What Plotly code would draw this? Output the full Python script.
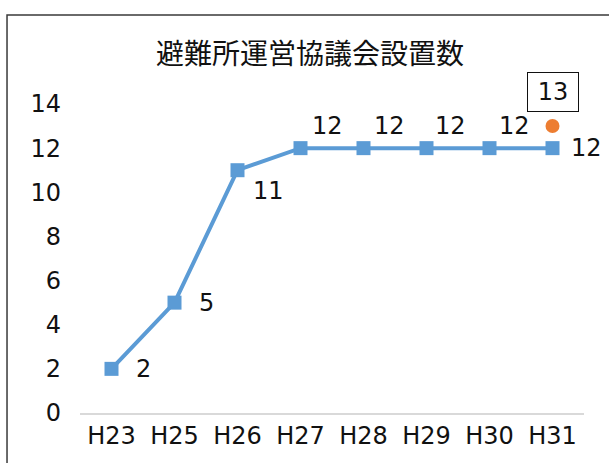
import plotly.graph_objects as go

# Council counts by fiscal year
years = ["H23", "H25", "H26", "H27", "H28", "H29", "H30", "H31"]
counts = [2, 5, 11, 12, 12, 12, 12, 12]
# Separate highlighted value shown at the last year
extra_year = "H31"
extra_value = 13

title_text = "避難所運営協議会設置数"
y_ticks = [0, 2, 4, 6, 8, 10, 12, 14]

num_font = dict(family="DejaVu Sans, Noto Sans", size=24, color="#111111")

fig = go.Figure()
fig.add_trace(go.Scatter(
    x=years, y=counts, mode="lines+markers",
    line=dict(color="#5b9bd5", width=4),
    marker=dict(symbol="square", size=14, color="#5b9bd5"),
    cliponaxis=False, showlegend=False,
))
fig.add_trace(go.Scatter(
    x=[extra_year], y=[extra_value], mode="markers",
    marker=dict(symbol="circle", size=14, color="#ed7d31"),
    cliponaxis=False, showlegend=False,
))

# Value labels beside each point
offsets = [(32, 0), (32, 0), (31, -21), (27, 22), (26, 22), (24, 22), (25, 22), (34, 0)]
for yr, v, (dx, dy) in zip(years, counts, offsets):
    fig.add_annotation(x=yr, y=v, text=str(v), showarrow=False,
                       xshift=dx, yshift=dy, font=num_font)

# Boxed label for the highlighted value
fig.add_annotation(x=extra_year, y=extra_value, text=str(extra_value), showarrow=False,
                   yshift=34, font=num_font, bordercolor="#111111", borderwidth=1,
                   borderpad=4, width=42, height=30, bgcolor="white")

# Chart title
fig.add_annotation(xref="paper", yref="paper", x=0.456, y=1.168, text=title_text,
                   showarrow=False, xanchor="center", yanchor="middle",
                   font=dict(family="Noto Sans CJK JP", size=28, color="#111111"))

# Outer chart frame
fig.add_shape(type="rect", xref="paper", yref="paper",
              x0=-0.1448, x1=1.1, y0=-0.25, y1=1.288,
              line=dict(color="#3a3a3a", width=1.5), layer="above")

fig.update_layout(
    width=609, height=463,
    margin=dict(l=80, r=25, t=104, b=50, autoexpand=False),
    paper_bgcolor="white", plot_bgcolor="white",
    xaxis=dict(type="category", categoryorder="array", categoryarray=years,
               range=[-0.5, len(years) - 0.5],
               showgrid=False, showline=True, linecolor="#d9d9d9", linewidth=1.5,
               ticks="", tickfont=num_font, zeroline=False, fixedrange=True,
               automargin=False),
    yaxis=dict(range=[0, 14], tickvals=y_ticks, showgrid=False, zeroline=False,
               showline=False, ticks="", tickfont=num_font, ticklabelstandoff=18,
               fixedrange=True, automargin=False),
)

fig.write_html("out.html")
